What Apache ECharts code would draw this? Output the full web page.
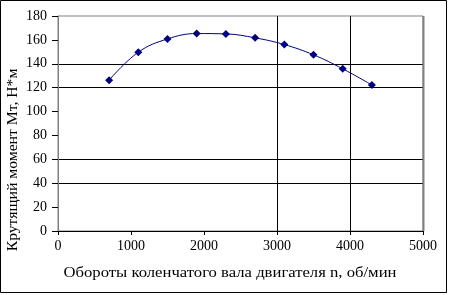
<!DOCTYPE html>
<html>
<head>
<meta charset="utf-8">
<script src="https://cdn.jsdelivr.net/npm/echarts@6/dist/echarts.min.js"></script>
<style>
html,body{margin:0;padding:0;background:#fff;}
#c{width:449px;height:295px;}
</style>
</head>
<body>
<div id="c"></div>
<script>
const rpm = [700, 1100, 1500, 1900, 2300, 2700, 3100, 3500, 3900, 4300];
const torque = [126.3, 149.7, 160.8, 165.3, 165.0, 161.7, 156.1, 147.5, 135.8, 122.2];
const xTitle = 'Обороты коленчатого вала двигателя n, об/мин';
const yTitle = 'Крутящий момент Мт, Н*м';

const chart = echarts.init(document.getElementById('c'), null, {renderer: 'canvas'});
const font = 'Liberation Serif';
const yGridColors = ['transparent','transparent','#000','#000','transparent','transparent','#000','#000','transparent','transparent'];
const xGridColors = ['transparent','transparent','transparent','#000','#000','transparent'];
chart.setOption({
  animation: false,
  backgroundColor: '#fff',
  graphic: [
    {type: 'rect', shape: {x: 0.5, y: 0.5, width: 446, height: 292}, style: {fill: 'none', stroke: '#000', lineWidth: 1}, z: 0},
    {type: 'line', shape: {x1: 423.5, y1: 16, x2: 423.5, y2: 231}, style: {stroke: '#808080', lineWidth: 2}, z: 10},
    {type: 'text', x: 230, y: 273, scaleX: 1.19, z: 10,
     style: {text: xTitle, font: '14px "Liberation Serif"', fill: '#000', align: 'center', verticalAlign: 'middle', textAlign: 'center', textVerticalAlign: 'middle'}},
    {type: 'text', x: 13, y: 160, rotation: Math.PI / 2, scaleX: 1.12, z: 10,
     style: {text: yTitle, font: '14px "Liberation Serif"', fill: '#000', align: 'center', verticalAlign: 'middle', textAlign: 'center', textVerticalAlign: 'middle'}}
  ],
  grid: {left: 58, right: 26, top: 16, bottom: 64, show: true, borderColor: '#808080', borderWidth: 1},
  xAxis: {
    type: 'value', min: 0, max: 5000, interval: 1000,
    axisLine: {show: true, lineStyle: {color: '#000', width: 1}},
    axisTick: {show: true, length: 4, lineStyle: {color: '#000'}},
    axisLabel: {fontFamily: font, fontSize: 14, color: '#000', margin: 8, formatter: v => String(v)},
    splitLine: {show: true, lineStyle: {color: xGridColors, width: 1}}
  },
  yAxis: {
    type: 'value', min: 0, max: 180, interval: 20,
    axisLine: {show: true, lineStyle: {color: '#808080', width: 1}},
    axisTick: {show: true, length: 6, lineStyle: {color: '#000'}},
    axisLabel: {fontFamily: font, fontSize: 14, color: '#000', margin: 11, formatter: v => String(v)},
    splitLine: {show: true, lineStyle: {color: yGridColors, width: 1}}
  },
  series: [{
    type: 'line',
    data: rpm.map((x, i) => [x, torque[i]]),
    smooth: 0.4,
    symbol: 'diamond', symbolSize: 8,
    lineStyle: {color: '#000080', width: 1},
    itemStyle: {color: '#000080'},
    z: 5
  }]
});
</script>
</body>
</html>
